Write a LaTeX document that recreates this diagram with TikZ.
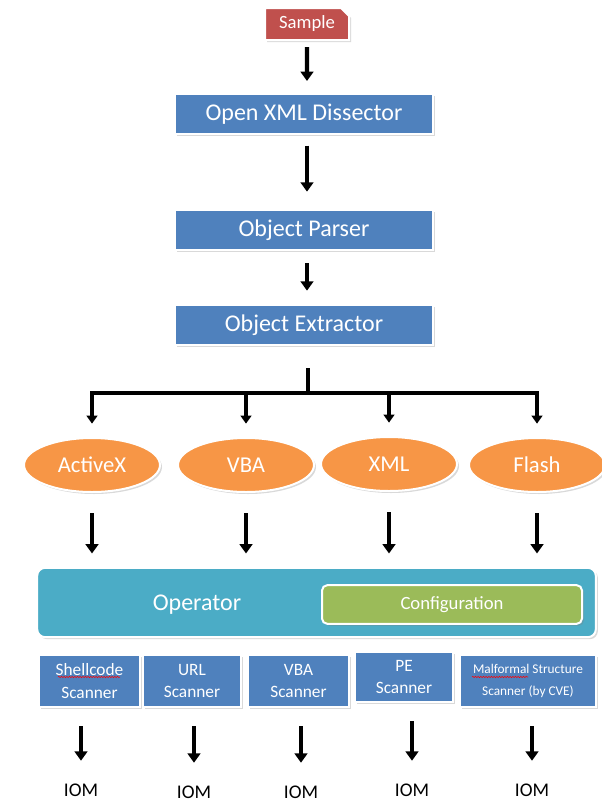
\documentclass[tikz,border=0pt]{standalone}
\usepackage{fontspec}
\setmainfont{Carlito}
\usetikzlibrary{arrows.meta,shapes.geometric,shapes.misc,shadows,decorations.pathmorphing}

\definecolor{samplered}{HTML}{C0504D}
\definecolor{stageblue}{HTML}{4F81BD}
\definecolor{pluginorange}{HTML}{F79646}
\definecolor{operatorteal}{HTML}{4BACC6}
\definecolor{configgreen}{HTML}{9BBB59}

\begin{document}
\begin{tikzpicture}[
  x=0.75pt,
  y=-0.75pt,
  font=\fontsize{18}{22}\selectfont,
  stage/.style={
    draw=white,
    line width=1.5pt,
    fill=stageblue,
    text=white,
    inner sep=0pt,
    minimum width=193.5pt,
    minimum height=30pt,
    drop shadow={shadow xshift=1.5pt, shadow yshift=-1.5pt, opacity=0.3}
  },
  plugin/.style={
    stage,
    ellipse,
    fill=pluginorange,
    minimum width=102pt,
    minimum height=40.5pt,
    font=\fontsize{17}{20}\selectfont
  },
  scanner/.style={
    stage,
    align=center,
    minimum height=39pt,
    font=\fontsize{13}{17}\selectfont
  },
  flow/.style={
    -{Triangle[width=9.5pt,length=7pt]},
    line width=3.2pt
  },
  iom/.style={
    font=\fontsize{14.5}{16}\selectfont,
    inner sep=1pt
  },
  spellmark/.style={
    red,
    line width=0.4pt,
    decorate,
    decoration={snake, amplitude=0.5pt, segment length=2pt}
  }
  ]
  \useasboundingbox (0,0) rectangle (602,807);

  \node [stage, chamfered rectangle, chamfered rectangle corners=north east, chamfered rectangle xsep=3pt, chamfered rectangle ysep=3pt, fill=samplered, minimum width=63pt, minimum height=24pt, font=\fontsize{14}{16}\selectfont] (Sample) at (307,24) {Sample};
  \node [stage] (Dissector) at (304,114) {Open XML Dissector};
  \node [stage] (Parser) at (304,230) {Object Parser};
  \node [stage] (Extractor) at (304,325) {Object Extractor};

  \node [plugin] (ActiveX) at (92,465) {ActiveX};
  \node [plugin] (VBA) at (246,465) {VBA};
  \node [plugin] (XML) at (389,464) {XML};
  \node [plugin] (Flash) at (537,465) {Flash};

  \node [stage, fill=operatorteal, rounded corners=6pt, minimum width=419pt, minimum height=52pt] (Operator) at (316.5,602.5) {};
  \node [text=white] (OperatorLabel) at (197,605) {Operator};
  \node [stage, fill=configgreen, rounded corners=4pt, minimum width=195pt, minimum height=29pt, font=\fontsize{14}{16}\selectfont] (Config) at (452,604.5) {Configuration};

  \node [scanner, minimum width=76pt] (ScShell) at (89.5,681) {Shellcode\\Scanner};
  \node [scanner, minimum width=73.5pt] (ScURL) at (192,681) {URL\\Scanner};
  \node [scanner, minimum width=76pt] (ScVBA) at (298.5,681) {VBA\\Scanner};
  \node [scanner, minimum width=73.5pt, minimum height=37.5pt] (ScPE) at (404,677) {PE\\Scanner};
  \node [scanner, minimum width=102pt, font=\fontsize{10}{17}\selectfont] (ScCVE) at (528,681) {Malformal Structure\\Scanner (by CVE)};
  \draw [spellmark] (58,677) -- (120,677);
  \draw [spellmark] (472,677) -- (528,677);

  \node [iom] (IomShell) at (81,790) {IOM};
  \node [iom] (IomURL) at (194,792) {IOM};
  \node [iom] (IomVBA) at (301,792) {IOM};
  \node [iom] (IomPE) at (412,790) {IOM};
  \node [iom] (IomCVE) at (532,790) {IOM};

  \coordinate (Split) at (308,393);

  \draw [flow, shorten <=4.5pt, shorten >=9pt] (Sample) -- (Sample |- Dissector.north);
  \draw [flow, shorten <=8pt, shorten >=13pt] (Dissector.south -| Sample) -- (Sample |- Parser.north);
  \draw [flow, shorten <=9pt, shorten >=10pt] (Parser.south -| Sample) -- (Sample |- Extractor.north);
  \draw [line width=2.5pt, shorten <=16.5pt] (Extractor.south -| Split) -- (Split);
  \foreach \p in {ActiveX,VBA,XML,Flash}
    \draw [flow, line width=2.5pt, -{Triangle[width=8pt,length=6pt]}, shorten >=10pt] (Split) -| (\p.north);
  \foreach \p in {ActiveX,VBA,XML,Flash}
    \draw [flow, shorten <=15pt, shorten >=10pt] (\p) -- (\p |- Operator.north);
  \foreach \s/\i in {ScShell/IomShell,ScURL/IomURL,ScVBA/IomVBA,ScPE/IomPE,ScCVE/IomCVE}
    \draw [flow, shorten <=13.5pt, shorten >=16pt] (\s.south -| \i) -- (\i);
\end{tikzpicture}
\end{document}
